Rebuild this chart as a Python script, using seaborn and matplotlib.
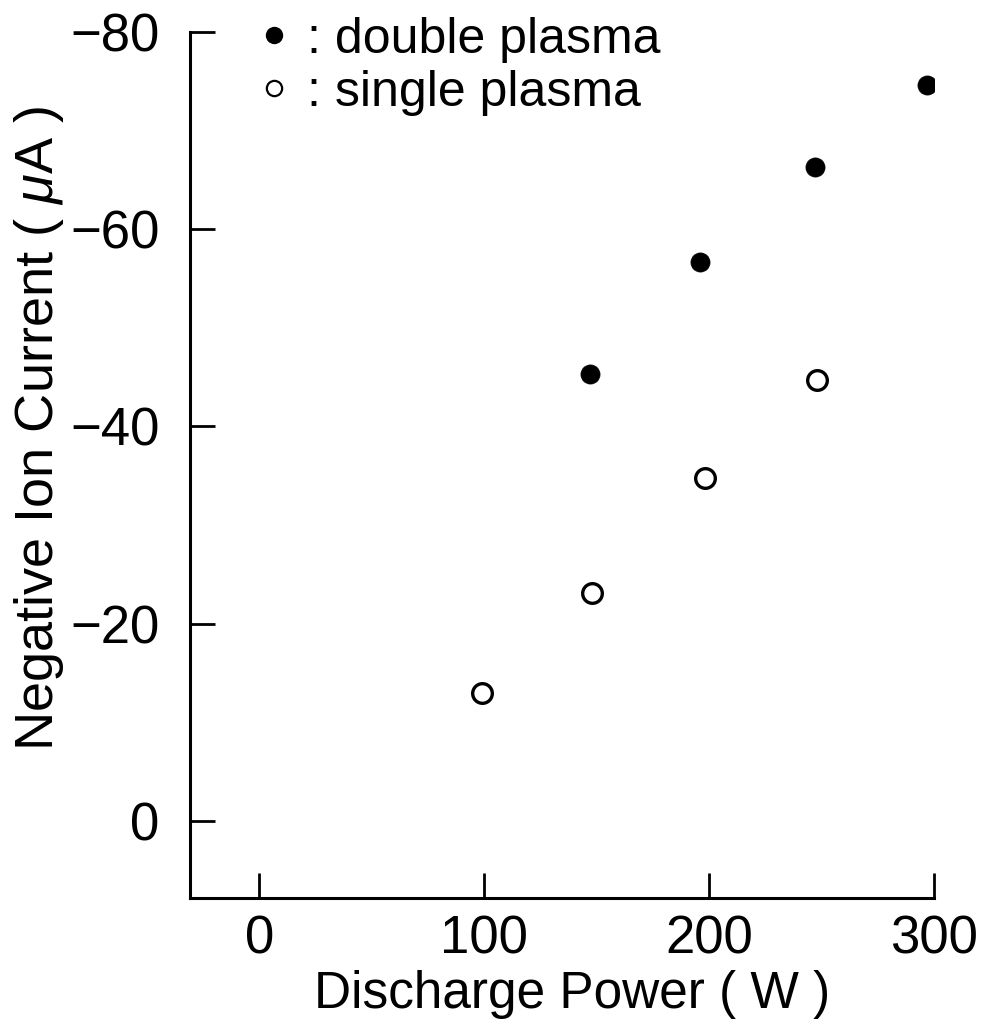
import matplotlib
matplotlib.use("Agg")
import matplotlib.pyplot as plt
import seaborn as sns
import pandas as pd
from matplotlib.lines import Line2D

# Data
double_power = [147, 196, 247, 297]
double_current = [-45.3, -56.7, -66.3, -74.6]
single_power = [99, 148, 198, 248]
single_current = [-13.0, -23.1, -34.8, -44.7]
x_ticks = [0, 100, 200, 300]
y_ticks = [-80, -60, -40, -20, 0]
series_names = ["double plasma", "single plasma"]

sns.set_theme(style="white")
plt.rcParams['font.family'] = ['Liberation Sans', 'DejaVu Sans']
plt.rcParams['mathtext.fontset'] = 'custom'
plt.rcParams['mathtext.it'] = 'Liberation Sans:italic'
plt.rcParams['mathtext.rm'] = 'Liberation Sans'
for key in ['text.color', 'axes.labelcolor', 'xtick.color', 'ytick.color']:
    plt.rcParams[key] = 'black'

df = pd.DataFrame({
    "power": double_power + single_power,
    "current": double_current + single_current,
    "series": [series_names[0]] * len(double_power) + [series_names[1]] * len(single_power),
})

fig = plt.figure(figsize=(9.82, 10.29), dpi=100)
ax = fig.add_axes([0.1935, 0.1273, 0.7575, 0.8417])

sns.scatterplot(data=df[df.series == series_names[0]], x="power", y="current",
                ax=ax, s=190, color="black", edgecolor="black", linewidth=0.5,
                legend=False, zorder=3)
sns.scatterplot(data=df[df.series == series_names[1]], x="power", y="current",
                ax=ax, s=200, facecolor="white", edgecolor="black", linewidth=2.4,
                legend=False, zorder=3)

ax.set_xlim(-30.8, 300)
ax.set_ylim(7.8, -80)
ax.set_xticks(x_ticks)
ax.set_yticks(y_ticks)
ax.set_xticklabels([str(v) for v in x_ticks])
ax.set_yticklabels([str(v).replace('-', '\u2212') for v in y_ticks])

for side in ["top", "right"]:
    ax.spines[side].set_visible(False)
for side in ["left", "bottom"]:
    ax.spines[side].set_linewidth(2.2)
    ax.spines[side].set_color("black")

ax.tick_params(axis="both", which="major", direction="in", length=18, width=2.0,
               colors="black", labelsize=38, left=True, bottom=True)
ax.tick_params(axis="y", pad=22)
ax.tick_params(axis="x", pad=12)

ax.set_xlabel("Discharge Power ( W )", fontsize=37, labelpad=4, x=0.513)
ax.set_ylabel(r"Negative Ion Current ( $\mu$A )", fontsize=39)
ax.yaxis.set_label_coords(-0.167, 0.5416)

handles = [
    Line2D([], [], marker="o", linestyle="none", markersize=11.5,
           markerfacecolor="black", markeredgecolor="black"),
    Line2D([], [], marker="o", linestyle="none", markersize=11,
           markerfacecolor="white", markeredgecolor="black", markeredgewidth=1.6),
]
fig.legend(handles, [": " + n for n in series_names], loc="upper left",
           bbox_to_anchor=(0.2434, 1.003), frameon=False, fontsize=36,
           handlelength=0.6, handletextpad=0.35, labelspacing=0.14,
           borderaxespad=0.0)

fig.savefig("out.png", dpi=100)
